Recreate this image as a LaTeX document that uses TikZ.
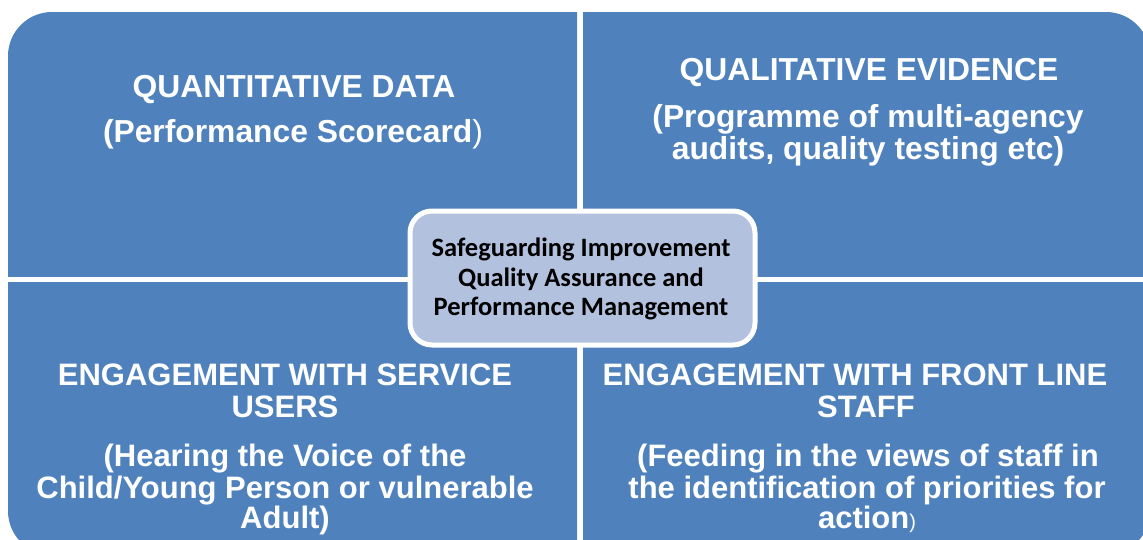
\documentclass[tikz,border=0pt]{standalone}
\usepackage{fontspec}
\setmainfont{Liberation Sans}
\newfontfamily\calib{Carlito}
\definecolor{quad}{RGB}{79,129,189}
\definecolor{hubfill}{RGB}{178,194,222}
\begin{document}
\begin{tikzpicture}[x=1pt,y=-1pt,
  qt/.style={text=white,font=\bfseries\fontsize{31}{32}\selectfont,anchor=base,inner sep=0pt},
  qtt/.style={qt,font=\bfseries\fontsize{31.8}{32}\selectfont},
  ht/.style={text=black,font=\calib\bfseries\fontsize{26.5}{29.5}\selectfont,anchor=base,inner sep=0pt},
  quadfill/.style={fill=quad,rounded corners=44pt}]
\useasboundingbox (0,0) rectangle (1143,539);
\clip (0,0) rectangle (1143,539);
\fill[white] (0,0) rectangle (1143,539);
% quadrants
\begin{scope}\clip (8,12) rectangle (577,276); \fill[quadfill] (8,12) rectangle (760,420); \end{scope}
\begin{scope}\clip (583,12) rectangle (1150,276); \fill[quadfill] (400,12) rectangle (1150,420); \end{scope}
\begin{scope}\clip (8,282) rectangle (577,555); \fill[quadfill] (8,140) rectangle (760,555); \end{scope}
\begin{scope}\clip (583,282) rectangle (1150,555); \fill[quadfill] (400,140) rectangle (1150,555); \end{scope}
% hub
\node[draw=white,line width=5pt,fill=hubfill,rounded corners=22pt,minimum width=345pt,minimum height=134pt] (hub) at (582.5,278) {};
\node[ht] (h1) at (581,256) {Safeguarding Improvement};
\node[ht] (h2) at (581,286) {Quality Assurance and};
\node[ht] (h3) at (581,315) {Performance Management};
% top-left
\node[qtt] (tl1) at (294,97) {QUANTITATIVE DATA};
\node[qtt] (tl2) at (293,142) {(Performance Scorecard\textmd{)}};
% top-right
\node[qtt] (tr1) at (869,80) {QUALITATIVE EVIDENCE};
\node[qtt] (tr2) at (868,127) {(Programme of multi-agency};
\node[qtt] (tr3) at (868,159) {audits, quality testing etc)};
% bottom-left
\node[qt] (bl1) at (285,385) {ENGAGEMENT WITH SERVICE};
\node[qt] (bl2) at (285,417) {USERS};
\node[qt] (bl3) at (285,466) {(Hearing the Voice of the};
\node[qt] (bl4) at (285,498) {Child/Young Person or vulnerable};
\node[qt] (bl5) at (285,528) {Adult)};
% bottom-right
\node[qt] (br1) at (855,385) {ENGAGEMENT WITH FRONT LINE};
\node[qt] (br2) at (866,417) {STAFF};
\node[qt] (br3) at (868,466) {(Feeding in the views of staff in};
\node[qt] (br4) at (867,498) {the identification of priorities for};
\node[qt] (br5) at (867,528) {action{\mdseries\fontsize{20}{20}\selectfont)}};
\end{tikzpicture}
\end{document}
